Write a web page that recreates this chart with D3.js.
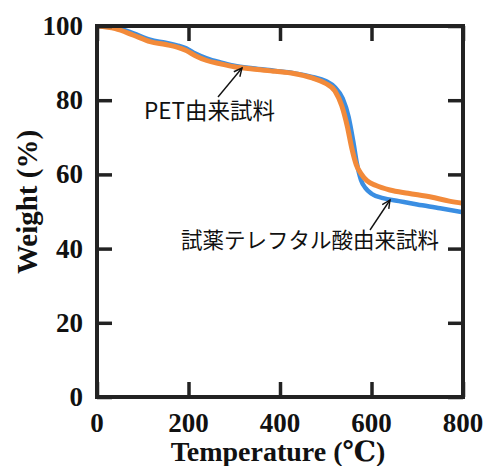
<!DOCTYPE html>
<html>
<head>
<meta charset="utf-8">
<script src="https://cdn.jsdelivr.net/npm/d3@7"></script>
<style>
  body { margin: 0; background: #fff; }
</style>
</head>
<body>
<svg id="chart" width="489" height="466"></svg>
<script>
// temperature (°C) and weight (%)
const petTemp = [0, 40, 80, 116, 150, 175, 195, 215, 240, 270, 300, 340, 390, 430, 470, 500, 520, 535, 547, 557, 567, 577, 590, 610, 640, 680, 730, 770, 800];
const petWeight = [100, 99.3, 97.5, 95.8, 95.0, 94.3, 93.4, 92.0, 90.7, 89.8, 89.0, 88.4, 87.8, 87.2, 86.0, 84.5, 82.5, 78.5, 73.0, 67.0, 62.5, 60.2, 58.3, 57.0, 55.8, 54.9, 53.9, 52.8, 52.2];

const reagentTemp = [0, 40, 80, 116, 150, 175, 195, 215, 240, 270, 300, 340, 390, 430, 470, 500, 520, 537, 550, 560, 568, 577, 587, 600, 625, 660, 700, 750, 800];
const reagentWeight = [100, 99.6, 98.0, 96.3, 95.5, 94.8, 94.0, 92.6, 91.3, 90.2, 89.3, 88.6, 87.9, 87.3, 86.3, 85.2, 83.5, 80.5, 75.5, 69.0, 63.0, 58.5, 56.3, 54.8, 53.6, 52.8, 51.9, 50.9, 49.8];

const xTicks = [0, 200, 400, 600, 800];
const yTicks = [0, 20, 40, 60, 80, 100];

const svg = d3.select("#chart");
const margin = { top: 26, right: 26, bottom: 69, left: 97 };
const width = 489 - margin.left - margin.right;
const height = 466 - margin.top - margin.bottom;

const x = d3.scaleLinear().domain([0, 800]).range([0, width]);
const y = d3.scaleLinear().domain([0, 100]).range([height, 0]);

const g = svg.append("g").attr("transform", `translate(${margin.left},${margin.top})`);

const line = d3.line()
    .x(d => x(d[0]))
    .y(d => y(d[1]))
    .curve(d3.curveMonotoneX);

g.append("clipPath").attr("id", "plot-clip")
    .append("rect").attr("width", width).attr("height", height);

g.append("path")
    .datum(d3.zip(reagentTemp, reagentWeight))
    .attr("clip-path", "url(#plot-clip)")
    .attr("fill", "none")
    .attr("stroke", "#3a8ee2")
    .attr("stroke-width", 4.5)
    .attr("d", line);

g.append("path")
    .datum(d3.zip(petTemp, petWeight))
    .attr("clip-path", "url(#plot-clip)")
    .attr("fill", "none")
    .attr("stroke", "#f28a3a")
    .attr("stroke-width", 5)
    .attr("d", line);

// inward ticks on all four sides
const frameColor = "#222";
const tickLen = 15;
const axes = [
    { axis: d3.axisBottom(x).tickValues(xTicks), t: `translate(0,${height})` },
    { axis: d3.axisTop(x).tickValues(xTicks), t: "translate(0,0)" },
    { axis: d3.axisLeft(y).tickValues(yTicks), t: "translate(0,0)" },
    { axis: d3.axisRight(y).tickValues(yTicks), t: `translate(${width},0)` }
];
axes.forEach(a => {
    const ax = g.append("g")
        .attr("transform", a.t)
        .call(a.axis.tickSizeInner(-tickLen).tickSizeOuter(0).tickFormat(""));
    ax.select(".domain").remove();
    ax.selectAll("line").attr("stroke", frameColor).attr("stroke-width", 3.5);
});

g.append("rect")
    .attr("width", width)
    .attr("height", height)
    .attr("fill", "none")
    .attr("stroke", frameColor)
    .attr("stroke-width", 4);

const numFont = "'Liberation Serif', 'DejaVu Serif', serif";

g.selectAll(".xlab")
    .data(xTicks)
    .enter()
    .append("text")
    .attr("x", d => x(d))
    .attr("y", height + 35)
    .attr("text-anchor", "middle")
    .attr("font-family", numFont)
    .attr("font-weight", "bold")
    .attr("font-size", 27)
    .attr("fill", "#111")
    .text(d => d);

g.selectAll(".ylab")
    .data(yTicks)
    .enter()
    .append("text")
    .attr("x", -14)
    .attr("y", d => y(d) + 9)
    .attr("text-anchor", "end")
    .attr("font-family", numFont)
    .attr("font-weight", "bold")
    .attr("font-size", 27)
    .attr("fill", "#111")
    .text(d => d);

g.append("text")
    .attr("x", width / 2 - 2)
    .attr("y", height + 64)
    .attr("text-anchor", "middle")
    .attr("font-family", numFont)
    .attr("font-weight", "bold")
    .attr("font-size", 28)
    .attr("fill", "#111")
    .text("Temperature (℃)");

svg.append("text")
    .attr("transform", "translate(37,202) rotate(-90)")
    .attr("text-anchor", "middle")
    .attr("font-family", numFont)
    .attr("font-weight", "bold")
    .attr("font-size", 29)
    .attr("fill", "#111")
    .text("Weight (%)");

// annotations
const jpFont = "'Noto Sans CJK JP', sans-serif";
const notes = [
    { text: "PET由来試料", tx: 144, ty: 119, size: 22.5, from: [218, 97], to: [242, 68] },
    { text: "試薬テレフタル酸由来試料", tx: 181, ty: 248, size: 21.5, from: [370, 230], to: [390, 200] }
];

notes.forEach(n => {
    svg.append("text")
        .attr("x", n.tx)
        .attr("y", n.ty)
        .attr("font-family", jpFont)
        .attr("font-size", n.size)
        .attr("fill", "#111")
        .text(n.text);

    svg.append("line")
        .attr("x1", n.from[0]).attr("y1", n.from[1])
        .attr("x2", n.to[0]).attr("y2", n.to[1])
        .attr("stroke", "#111")
        .attr("stroke-width", 1.4);

    const ang = Math.atan2(n.to[1] - n.from[1], n.to[0] - n.from[0]);
    const head = 9, spread = 0.45;
    const p1 = [n.to[0] - head * Math.cos(ang - spread), n.to[1] - head * Math.sin(ang - spread)];
    const p2 = [n.to[0] - head * Math.cos(ang + spread), n.to[1] - head * Math.sin(ang + spread)];
    svg.append("path")
        .attr("d", `M${p1}L${n.to}L${p2}`)
        .attr("fill", "none")
        .attr("stroke", "#111")
        .attr("stroke-width", 1.4);
});
</script>
</body>
</html>
